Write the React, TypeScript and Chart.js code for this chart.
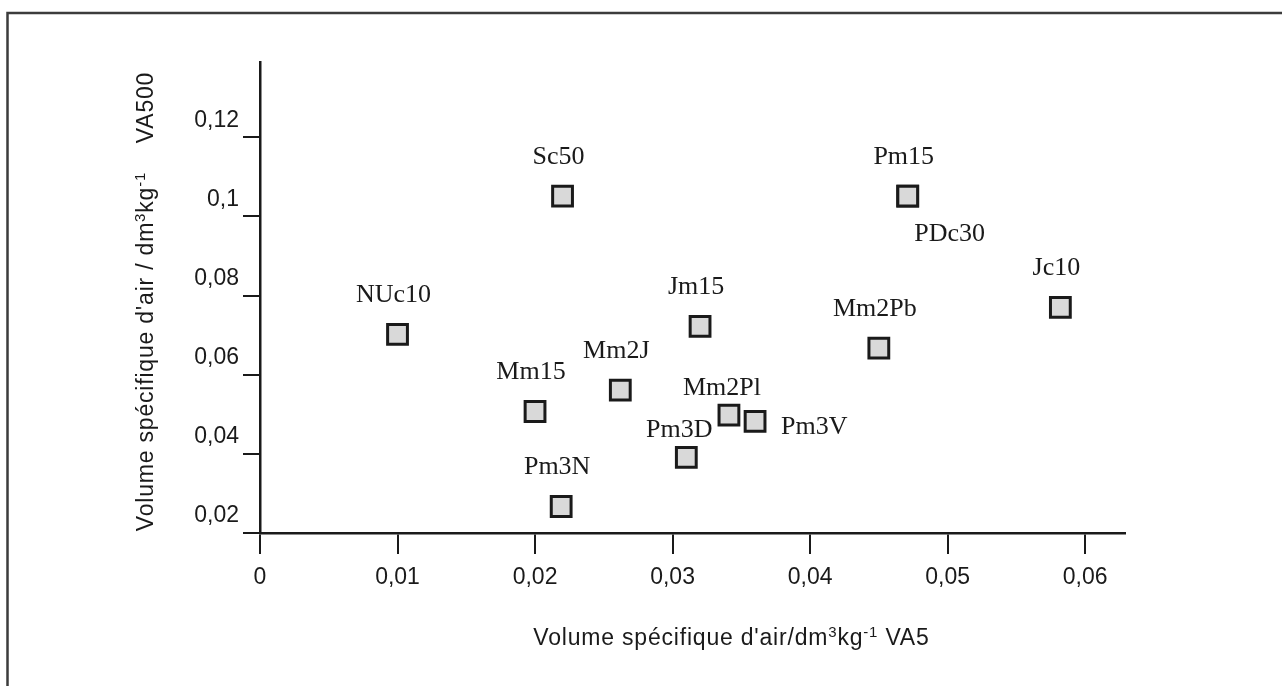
import React, { useEffect, useRef } from 'react';
import { Chart, registerables } from 'chart.js';

Chart.register(...registerables);

// ---- Data ----
const sampleNames = ['NUc10', 'Sc50', 'Pm3N', 'Mm15', 'Mm2J', 'Pm3D', 'Jm15', 'Mm2Pl', 'Pm3V', 'Mm2Pb', 'Pm15', 'PDc30', 'Jc10'];
const va5Values = [0.01, 0.022, 0.0219, 0.02, 0.0262, 0.031, 0.032, 0.0341, 0.036, 0.045, 0.0471, 0.0471, 0.0582];
const va500Values = [0.0702, 0.1051, 0.0267, 0.0507, 0.0561, 0.0391, 0.0722, 0.0498, 0.0482, 0.0667, 0.1051, 0.1051, 0.077];
const labelPlacement = ['top', 'top', 'top', 'top', 'top', 'topNear', 'top', 'topNear', 'right', 'top', 'top', 'bottomRight', 'top'];

const xTickValues = [0, 0.01, 0.02, 0.03, 0.04, 0.05, 0.06];
const xTickLabels = ['0', '0,01', '0,02', '0,03', '0,04', '0,05', '0,06'];
const yTickValues = [0.02, 0.04, 0.06, 0.08, 0.1, 0.12];
const yTickLabels = ['0,02', '0,04', '0,06', '0,08', '0,1', '0,12'];

type Seg = { t: string; sup?: boolean };
const xTitle: Seg[] = [{ t: "Volume spécifique d'air/dm" }, { t: '3', sup: true }, { t: 'kg' }, { t: '-1', sup: true }, { t: ' VA5' }];
const yTitle: Seg[] = [{ t: "Volume spécifique d'air / dm" }, { t: '3', sup: true }, { t: 'kg' }, { t: '-1', sup: true }, { t: '    VA500' }];

const SANS = '"Liberation Sans", Arial, Helvetica, sans-serif';
const SERIF = '"Liberation Serif", "Times New Roman", serif';
const INK = '#1a1a1a';

function drawRich(ctx: CanvasRenderingContext2D, segs: Seg[], cx: number, baseY: number, size: number) {
  const supSize = Math.round(size * 0.66);
  const widths = segs.map((s) => {
    ctx.font = `${s.sup ? supSize : size}px ${SANS}`;
    return ctx.measureText(s.t).width;
  });
  const total = widths.reduce((a, b) => a + b, 0);
  let x = cx - total / 2;
  segs.forEach((s, i) => {
    ctx.font = `${s.sup ? supSize : size}px ${SANS}`;
    ctx.fillText(s.t, x, s.sup ? baseY - size * 0.36 : baseY);
    x += widths[i];
  });
}

const framePlugin = {
  id: 'frame',
  beforeDraw(chart: any) {
    const ctx = chart.ctx;
    ctx.save();
    ctx.fillStyle = '#ffffff';
    ctx.fillRect(0, 0, chart.width, chart.height);
    ctx.strokeStyle = '#3c3c3c';
    ctx.lineWidth = 2.5;
    ctx.beginPath();
    ctx.moveTo(7.5, chart.height);
    ctx.lineTo(7.5, 13);
    ctx.lineTo(chart.width, 13);
    ctx.stroke();
    ctx.restore();
  },
};

const titlesPlugin = {
  id: 'richTitles',
  afterDraw(chart: any) {
    const { ctx, chartArea } = chart;
    ctx.save();
    ctx.fillStyle = INK;
    ctx.textBaseline = 'alphabetic';
    ctx.textAlign = 'left';
    (ctx as any).letterSpacing = '0.8px';
    const cx = chartArea.left + (chartArea.right - chartArea.left) * 0.545;
    drawRich(ctx, xTitle, cx, chartArea.bottom + 112, 23);
    ctx.translate(chartArea.left - 107, (chartArea.top + chartArea.bottom) / 2 + 4);
    ctx.rotate(-Math.PI / 2);
    drawRich(ctx, yTitle, 0, 0, 23);
    ctx.restore();
  },
};

const pointLabelsPlugin = {
  id: 'pointLabels',
  afterDatasetsDraw(chart: any) {
    const ctx = chart.ctx;
    const meta = chart.getDatasetMeta(0);
    ctx.save();
    ctx.fillStyle = INK;
    ctx.font = `26px ${SERIF}`;
    ctx.textBaseline = 'alphabetic';
    meta.data.forEach((el: any, i: number) => {
      const p = labelPlacement[i];
      let dx = -4, dy = -32, align: CanvasTextAlign = 'center';
      if (p === 'topNear') { dx = -7; dy = -20; }
      else if (p === 'right') { dx = 26; dy = 13; align = 'left'; }
      else if (p === 'bottomRight') { dx = 42; dy = 45; }
      ctx.textAlign = align;
      ctx.fillText(sampleNames[i], el.x + dx, el.y + dy);
    });
    ctx.restore();
  },
};

export default function App() {
  const canvasRef = useRef<HTMLCanvasElement | null>(null);

  useEffect(() => {
    if (!canvasRef.current) return;
    const points = va5Values.map((x, i) => ({ x, y: va500Values[i] }));
    const chart = new Chart(canvasRef.current, {
      type: 'scatter',
      data: {
        datasets: [
          {
            label: 'VA500 vs VA5',
            data: points,
            pointStyle: 'rect',
            pointRadius: 14,
            pointHoverRadius: 14,
            borderWidth: 3,
            borderColor: INK,
            backgroundColor: '#d9d9d9',
          },
        ],
      },
      options: {
        responsive: false,
        animation: false,
        devicePixelRatio: 1,
        layout: { padding: { top: 62, right: 157, bottom: 0, left: 0 } },
        plugins: { legend: { display: false }, tooltip: { enabled: false } },
        scales: {
          x: {
            type: 'linear',
            min: 0,
            max: 0.0629,
            afterFit: (s: any) => { s.height = 153; },
            afterBuildTicks: (s: any) => { s.ticks = xTickValues.map((v) => ({ value: v })); },
            border: { display: true, color: INK, width: 2.5 },
            grid: { display: true, drawOnChartArea: false, drawTicks: true, tickLength: 21, color: INK, lineWidth: 2 },
            ticks: {
              autoSkip: false,
              maxRotation: 0,
              padding: 10,
              color: INK,
              font: { family: SANS, size: 23 },
              callback: (_v: any, i: number) => xTickLabels[i],
            },
          },
          y: {
            type: 'linear',
            min: 0.02,
            max: 0.139,
            afterFit: (s: any) => { s.width = 260; },
            afterBuildTicks: (s: any) => { s.ticks = yTickValues.map((v) => ({ value: v })); },
            border: { display: true, color: INK, width: 2.5 },
            grid: { display: true, drawOnChartArea: false, drawTicks: true, tickLength: 17, color: INK, lineWidth: 2 },
            ticks: {
              autoSkip: false,
              padding: 4,
              labelOffset: -17,
              color: INK,
              font: { family: SANS, size: 23 },
              callback: (_v: any, i: number) => yTickLabels[i],
            },
          },
        },
      },
      plugins: [framePlugin, titlesPlugin, pointLabelsPlugin],
    });
    return () => chart.destroy();
  }, []);

  return (
    <div style={{ position: 'fixed', left: 0, top: 0, width: 1282, height: 686, background: '#fff' }}>
      <canvas ref={canvasRef} width={1282} height={686} style={{ display: 'block' }} />
    </div>
  );
}
